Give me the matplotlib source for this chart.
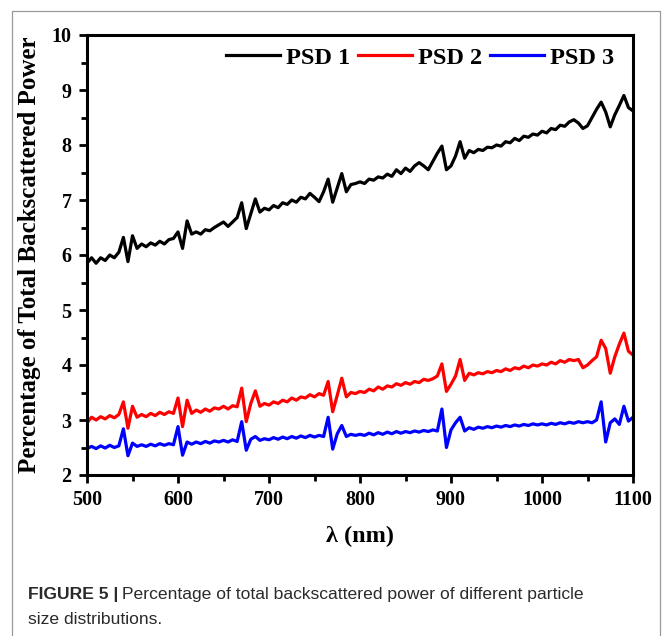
import numpy as np
import matplotlib
matplotlib.use("Agg")
import matplotlib.pyplot as plt
from matplotlib.ticker import MultipleLocator
from matplotlib.patches import Rectangle

# wavelength grid (nm), every 5 nm
wavelength = np.arange(500, 1101, 5)

# values (percent of total backscattered power)
psd1 = [5.85, 5.95, 5.85, 5.95, 5.90, 6.00, 5.95, 6.05, 6.32, 5.88,
        6.35, 6.12, 6.20, 6.15, 6.22, 6.18, 6.25, 6.20, 6.28, 6.30,
        6.42, 6.12, 6.62, 6.38, 6.42, 6.38, 6.46, 6.44, 6.50, 6.55,
        6.60, 6.52, 6.60, 6.68, 6.95, 6.48, 6.75, 7.02, 6.78, 6.85,
        6.82, 6.90, 6.86, 6.95, 6.92, 7.00, 6.96, 7.05, 7.02, 7.12,
        7.05, 6.97, 7.15, 7.38, 6.96, 7.22, 7.48, 7.15, 7.28, 7.30,
        7.33, 7.30, 7.38, 7.36, 7.42, 7.40, 7.47, 7.43, 7.55, 7.48,
        7.58, 7.52, 7.62, 7.68, 7.62, 7.55, 7.70, 7.85, 7.98, 7.55,
        7.62, 7.80, 8.06, 7.76, 7.90, 7.86, 7.92, 7.90, 7.96, 7.95,
        8.00, 7.98, 8.06, 8.04, 8.12, 8.08, 8.16, 8.14, 8.20, 8.18,
        8.25, 8.22, 8.30, 8.28, 8.36, 8.34, 8.42, 8.46, 8.40, 8.30,
        8.35, 8.50, 8.65, 8.78, 8.60, 8.33, 8.55, 8.72, 8.90, 8.68,
        8.62]

psd2 = [2.95, 3.05, 3.00, 3.06, 3.02, 3.08, 3.04, 3.10, 3.33, 2.85,
        3.25, 3.05, 3.10, 3.06, 3.12, 3.08, 3.14, 3.10, 3.15, 3.12,
        3.40, 2.88, 3.36, 3.12, 3.18, 3.14, 3.20, 3.16, 3.22, 3.20,
        3.25, 3.20, 3.26, 3.24, 3.58, 2.97, 3.30, 3.53, 3.25, 3.30,
        3.27, 3.33, 3.30, 3.36, 3.33, 3.40, 3.36, 3.42, 3.40, 3.46,
        3.42, 3.48, 3.45, 3.70, 3.15, 3.45, 3.76, 3.42, 3.50, 3.48,
        3.52, 3.50, 3.56, 3.53, 3.60, 3.56, 3.62, 3.60, 3.66, 3.63,
        3.68, 3.65, 3.70, 3.68, 3.74, 3.72, 3.75, 3.80, 4.02, 3.52,
        3.65, 3.80, 4.10, 3.72, 3.85, 3.82, 3.86, 3.84, 3.88, 3.86,
        3.90, 3.88, 3.93, 3.90, 3.95, 3.93, 3.98, 3.95, 4.00, 3.98,
        4.02, 4.00, 4.05, 4.02, 4.08, 4.05, 4.10, 4.08, 4.10, 3.95,
        4.00, 4.08, 4.15, 4.45, 4.30, 3.85, 4.15, 4.38, 4.58, 4.25,
        4.18]

psd3 = [2.48, 2.52, 2.48, 2.53, 2.49, 2.54, 2.50, 2.53, 2.84, 2.35,
        2.58, 2.52, 2.55, 2.52, 2.56, 2.53, 2.57, 2.54, 2.57, 2.55,
        2.88, 2.36, 2.60, 2.56, 2.60, 2.57, 2.61, 2.58, 2.62, 2.60,
        2.63, 2.60, 2.64, 2.61, 2.97, 2.45, 2.65, 2.70, 2.63, 2.66,
        2.64, 2.68, 2.65, 2.69, 2.66, 2.70, 2.67, 2.71, 2.68, 2.72,
        2.69, 2.72, 2.70, 3.05, 2.47, 2.75, 2.90, 2.70, 2.74, 2.72,
        2.74, 2.72, 2.76, 2.73, 2.77, 2.74, 2.78, 2.75, 2.79, 2.76,
        2.79, 2.77, 2.80, 2.78, 2.81, 2.79, 2.82, 2.80, 3.20, 2.50,
        2.82, 2.95, 3.05, 2.80, 2.86, 2.83, 2.87, 2.85, 2.88, 2.86,
        2.89, 2.87, 2.90, 2.88, 2.91, 2.89, 2.92, 2.90, 2.93, 2.91,
        2.93, 2.91, 2.94, 2.92, 2.95, 2.93, 2.96, 2.94, 2.97, 2.95,
        2.97, 2.95, 3.00, 3.33, 2.60, 2.95, 3.02, 2.92, 3.25, 2.98,
        3.05]

labels = ["PSD 1", "PSD 2", "PSD 3"]
colors = ["black", "red", "blue"]

plt.rcParams["font.family"] = "Liberation Serif"
plt.rcParams["font.weight"] = "bold"

W, H = 662, 636
fig = plt.figure(figsize=(W / 100, H / 100), dpi=100)
ax = fig.add_axes([87 / W, 1 - 475 / H, (633 - 87) / W, (475 - 35) / H])

for y, lab, c in zip([psd1, psd2, psd3], labels, colors):
    ax.plot(wavelength, y, color=c, lw=2.3, label=lab)

ax.set_xlim(500, 1100)
ax.set_ylim(2, 10)
ax.xaxis.set_major_locator(MultipleLocator(100))
ax.xaxis.set_minor_locator(MultipleLocator(50))
ax.yaxis.set_major_locator(MultipleLocator(1))
ax.yaxis.set_minor_locator(MultipleLocator(0.5))
ax.tick_params(which="both", direction="out", width=2, labelsize=14.5)
ax.tick_params(which="major", length=6, pad=5)
ax.tick_params(which="minor", length=4)
for s in ax.spines.values():
    s.set_linewidth(2.2)

ax.set_xlabel("λ (nm)", fontsize=17.5, fontweight="bold")
ax.xaxis.set_label_coords(0.5, -0.116)
ax.set_ylabel("Percentage of Total Backscattered Power", fontsize=18, fontweight="bold")
ax.yaxis.set_label_coords(-0.084, 0.5)

ax.legend(loc="center", bbox_to_anchor=(0.61, 0.948), ncol=3, frameon=False,
          fontsize=17.5, handlelength=2.2, handletextpad=0.25, columnspacing=0.35,
          borderpad=0, borderaxespad=0)

# outer frame around the figure panel
fig.add_artist(Rectangle((12 / W, -0.05), (660 - 12) / W, 1.05 - 11 / H,
                         transform=fig.transFigure, fill=False,
                         edgecolor="#9a9a9a", lw=0.9))

# caption
cap = dict(fontsize=12.6, family="Liberation Sans", color="#2a2a2a", va="center")
t1 = fig.text(28 / W, 1 - 594 / H, "FIGURE 5 |", fontweight="bold", **cap)
fig.canvas.draw()
bb = t1.get_window_extent()
fig.text((bb.x1 + 4) / W, 1 - 594 / H,
         "Percentage of total backscattered power of different particle",
         fontweight="normal", **cap)
fig.text(28 / W, 1 - 620 / H, "size distributions.", fontweight="normal", **cap)

plt.savefig("out.png", dpi=100)
